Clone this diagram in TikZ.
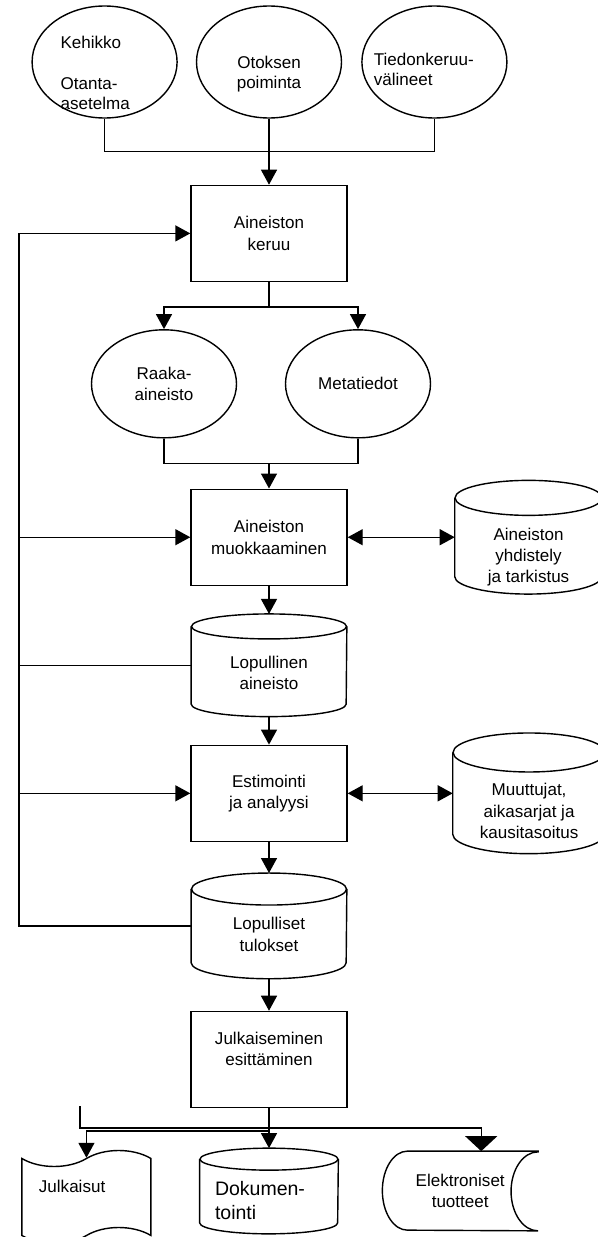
\documentclass[tikz,border=0pt]{standalone}
\usepackage{fontspec}
\setmainfont{Liberation Sans}
\usetikzlibrary{arrows.meta,positioning,shapes.geometric,shapes.symbols,calc}
\newcommand{\figfont}{\fontsize{9.7pt}{12.2pt}\selectfont}
\newcommand{\ovalfont}{\fontsize{9.7pt}{11.5pt}\selectfont}
\newcommand{\bigfigfont}{\fontsize{11.1pt}{13.6pt}\selectfont}
% outline of a data store: node, half width, cap radius
\newcommand{\drumline}[3]{%
  \draw[conn] ([yshift=-#3]#1.north west) -- ([yshift=#3]#1.south west)
    arc[start angle=180, end angle=360, x radius=#2, y radius=#3]
    -- ([yshift=-#3]#1.north east);
  \draw[conn] ([yshift=-#3]#1.north) ellipse[x radius=#2, y radius=#3];
}
\tikzset{
  procbox/.style={draw, line width=0.8pt, minimum width=3.12cm,
                  minimum height=1.92cm, align=center,
                  font=\figfont, inner sep=2pt},
  oval/.style   ={draw, ellipse, line width=0.8pt, minimum width=2.9cm,
                  minimum height=#1, inner sep=0pt, align=center,
                  font=\figfont},
  oval/.default=2.24cm,
  drum/.style   ={align=center, font=\figfont, inner sep=0pt},
  tapebox/.style={draw, tape, tape bend top=in and out,
                  tape bend bottom=in and out, tape bend height=0.32cm,
                  line width=0.8pt, font=\figfont, inner sep=0pt},
  conn/.style   ={line width=0.8pt},
  arr/.style    ={-{Triangle[length=0.3cm,width=0.32cm]}, line width=0.8pt},
  darr/.style   ={{Triangle[length=0.3cm,width=0.32cm]}-{Triangle[length=0.3cm,width=0.32cm]},
                  line width=0.8pt},
  bigarr/.style ={-{Triangle[length=0.3cm,width=0.64cm]}, line width=0.8pt},
}

\begin{document}
\begin{tikzpicture}
  \useasboundingbox (0,0) rectangle (11.96,-24.74);
  % design inputs
  \node[oval, font=\ovalfont] (otos) at (5.38,-1.24)
    {\mbox{}\\[9.5pt]Otoksen\\poiminta};
  \node[oval, font=\ovalfont, left=0.36cm of otos, text width=1.76cm,
        align=left, inner ysep=-8pt] (kehikko)
    {\mbox{}\\[8pt]Kehikko\\\mbox{}\\Otanta-\\asetelma};
  \node[oval, font=\ovalfont, right=0.38cm of otos, text width=2.42cm,
        align=left, inner xsep=-0.25cm] (tiedonk)
    {\mbox{}\\[4pt]Tiedonkeruu-\\välineet};
  % main column
  \node[procbox, below=1.32cm of otos] (keruu) {Aineiston\\keruu};
  \node[oval=2.16cm, below=0.94cm of keruu, xshift=-2.1cm] (raaka) {Raaka-\\aineisto};
  \node[oval=2.16cm, below=0.94cm of keruu, xshift=1.78cm] (meta) {Metatiedot};
  \node[procbox, below=1.0cm of $(keruu.south |- raaka.south)$] (muokkaus)
    {Aineiston\\muokkaaminen};
  \node[drum, minimum width=3.1cm, minimum height=2.04cm,
        below=0.56cm of muokkaus] (lopaineisto)
    {\mbox{}\\[3.3pt]Lopullinen\\aineisto};
  \node[procbox, below=0.56cm of lopaineisto] (estim) {Estimointi\\ja analyysi};
  \node[drum, minimum width=3.1cm, minimum height=2.1cm,
        below=0.62cm of estim] (loptulos)
    {\mbox{}\\[4.5pt]Lopulliset\\tulokset};
  \node[procbox, below=0.64cm of loptulos] (esitys)
    {Julkaiseminen\\esittäminen\\\mbox{}};
  % side stores
  \node[drum, minimum width=2.94cm, minimum height=2.26cm,
        right=2.14cm of muokkaus] (yhdistely)
    {\mbox{}\\[17.5pt]Aineiston\\yhdistely\\ja tarkistus};
  \node[drum, minimum width=3.04cm, minimum height=2.4cm,
        right=2.1cm of estim] (muuttujat)
    {\mbox{}\\[15pt]Muuttujat,\\aikasarjat ja\\kausitasoitus};
  % outputs
  \node[drum, minimum width=2.76cm, minimum height=1.7cm,
        below=0.8cm of esitys, font=\bigfigfont, text width=2.16cm,
        align=left] (dokum) {\mbox{}\\[5.2pt]Dokumen-\\tointi};
  \node[tapebox, minimum width=2.58cm, minimum height=1.86cm,
        left=0.96cm of dokum, yshift=-0.12cm, text width=1.9cm,
        align=left] (julkaisut) {Julkaisut\\\mbox{}};
  \node[minimum width=3.1cm, minimum height=1.58cm, align=center,
        font=\figfont, right=0.88cm of dokum] (elektr)
    {Elektroniset\\tuotteet};

  % store outlines
  \drumline{lopaineisto}{1.55cm}{0.25cm}
  \drumline{loptulos}{1.55cm}{0.32cm}
  \drumline{yhdistely}{1.47cm}{0.35cm}
  \drumline{muuttujat}{1.52cm}{0.39cm}
  \drumline{dokum}{1.38cm}{0.22cm}
  \draw[conn] (elektr.north east) -- ([xshift=0.5cm]elektr.north west)
    arc[start angle=90, end angle=270, x radius=0.5cm, y radius=0.79cm]
    -- (elektr.south east)
    arc[start angle=-90, end angle=-270, x radius=0.54cm, y radius=0.79cm]
    -- cycle;

  % connectors
  \coordinate (topjoin) at ($(keruu.north)+(0,0.66)$);
  \draw[conn] (kehikko.south) |- (topjoin) -| (tiedonk.south);
  \draw[arr] (otos.south) -- (keruu.north);
  \draw[arr] (keruu.south) -- ++(0,-0.5) -| (raaka.north);
  \draw[arr] (keruu.south) -- ++(0,-0.5) -| (meta.north);
  \coordinate (midjoin) at ($(muokkaus.north)+(0,0.5)$);
  \draw[conn] (raaka.south) |- (midjoin) -| (meta.south);
  \draw[arr] (midjoin) -- (muokkaus.north);
  \draw[arr] (muokkaus) -- (lopaineisto);
  \draw[arr] (lopaineisto) -- (estim);
  \draw[arr] (estim) -- (loptulos);
  \draw[arr] (loptulos) -- (esitys);
  \draw[darr] (muokkaus.east) -- (yhdistely.west);
  \draw[darr] (estim.east) -- (muuttujat.west);

  % feedback
  \coordinate (fb) at (0.38,0);
  \draw[arr] (loptulos.west) -- (loptulos.west -| fb) |- (keruu.west);
  \draw[arr] (muokkaus.west -| fb) -- (muokkaus.west);
  \draw[arr] (estim.west -| fb) -- (estim.west);
  \draw[conn] (lopaineisto.west -| fb) -- (lopaineisto.west);

  % distribution
  \coordinate (stub) at (1.6,-22.12);
  \draw[bigarr] (stub) |- ($(esitys.south)+(0,-0.4)$) -| ([xshift=0.42cm]elektr.north);
  \draw[arr] ($(esitys.south)+(0,-0.46)$) -| (julkaisut.north);
  \draw[arr] (esitys) -- (dokum);
\end{tikzpicture}
\end{document}
